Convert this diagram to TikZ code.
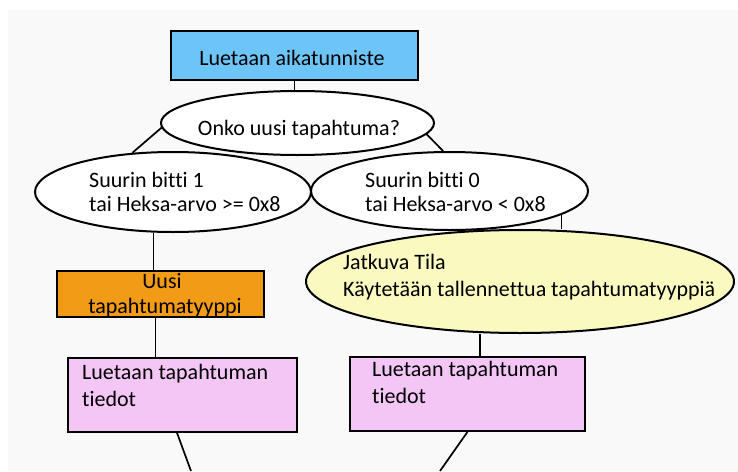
\documentclass[tikz,border=0pt]{standalone}
\usepackage{fontspec}
\setmainfont[Ligatures=NoCommon]{Carlito}
\usetikzlibrary{shapes.geometric,calc}
\definecolor{bgc}{RGB}{249,249,249}
\definecolor{cblue}{RGB}{108,197,246}
\definecolor{corange}{RGB}{242,155,22}
\definecolor{cyellow}{RGB}{250,249,192}
\definecolor{cpink}{RGB}{243,198,246}
\tikzset{
  boxnode/.style={draw=black, line width=1.7pt, rectangle, inner sep=0pt},
  ellnode/.style={draw=black, line width=2pt, ellipse, inner sep=0pt, fill=white},
  txt/.style={font=\fontsize{22}{26}\selectfont, inner sep=0pt, anchor=base west, text=black},
  txtc/.style={txt, anchor=base},
  conn/.style={draw=black, line width=1.7pt}
}
\begin{document}
\begin{tikzpicture}[x=1pt,y=-1pt]
\useasboundingbox (0,0) rectangle (738,471);
\fill[bgc] (8,10) rectangle (738,471);

% shapes
\node[boxnode, fill=cblue, minimum width=247pt, minimum height=49pt] (start) at (294.5,55.5) {};
\node[ellnode, minimum width=273pt, minimum height=64pt] (q) at (297.5,123) {};
\node[ellnode, minimum width=276pt, minimum height=80pt] (l) at (173,192) {};
\node[ellnode, minimum width=277pt, minimum height=78pt] (r) at (449.5,191) {};
\node[boxnode, fill=corange, minimum width=207pt, minimum height=46pt] (o) at (160.5,294) {};
\node[ellnode, fill=cyellow, minimum width=428pt, minimum height=103pt] (y) at (520,281.5) {};
\node[boxnode, fill=cpink, minimum width=229pt, minimum height=74pt] (p1) at (182.5,395) {};
\node[boxnode, fill=cpink, minimum width=235pt, minimum height=74pt] (p2) at (467.5,394) {};

% texts
\node[txtc] (tstart) at (292,65) {Luetaan aikatunniste};
\node[txtc] (tq) at (299,135) {Onko uusi tapahtuma?};
\node[txt] (tl1) at (89,187) {Suurin bitti 1};
\node[txt] (tl2) at (89,211) {tai Heksa-arvo >= 0x8};
\node[txt] (tr1) at (365,187) {Suurin bitti 0};
\node[txt] (tr2) at (365,211) {tai Heksa-arvo < 0x8};
\node[txtc] (to1) at (162,288) {Uusi};
\node[txtc] (to2) at (165,313) {tapahtumatyyppi};
\node[txt] (ty1) at (343,269) {Jatkuva Tila};
\node[txt] (ty2) at (343,296) {Käytetään tallennettua tapahtumatyyppiä};
\node[txt] (tp11) at (82,379) {Luetaan tapahtuman};
\node[txt] (tp12) at (82,406) {tiedot};
\node[txt] (tp21) at (372,376) {Luetaan tapahtuman};
\node[txt] (tp22) at (372,403) {tiedot};

% connectors
\coordinate (c1) at ($(o.north)+(-7,0)$);
\coordinate (c2) at ($(o.south)+(-5,0)$);
\coordinate (c3) at ($(p2.north)+(12.5,0)$);
\coordinate (c5) at ($(p1.south)+(-5.5,0)$);
\coordinate (e1) at (191,471);
\coordinate (e2) at (440,471);
\draw[conn] (start.south) -- (start.south |- q.north);
\draw[conn] (q.182) -- (l.136);
\draw[conn] (q.-5) -- (r.99);
\draw[conn] (c1 |- l.south) -- (c1);
\draw[conn] (r.-12) -- (r.-12 |- y.north);
\draw[conn] (c2) -- (c2 |- p1.north);
\draw[conn] (c3 |- y.south) -- (c3);
\draw[conn] (c5) -- (e1);
\draw[conn] (p2.south) -- (e2);
\end{tikzpicture}
\end{document}
